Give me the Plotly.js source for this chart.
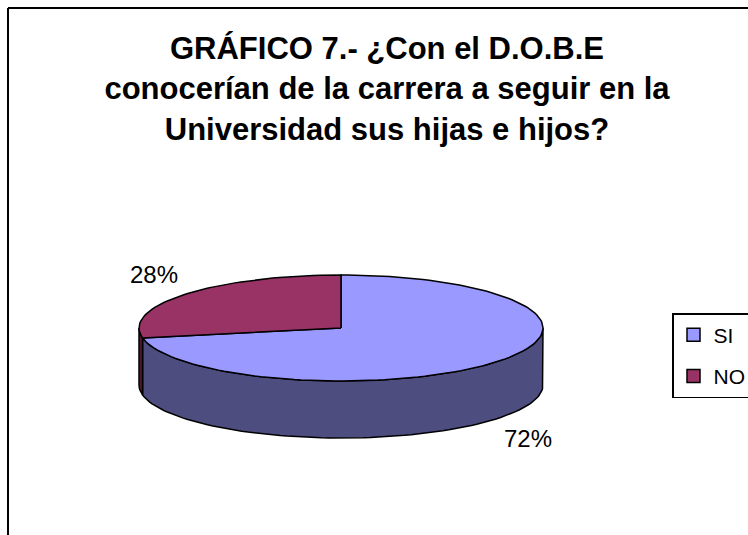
<!DOCTYPE html>
<html>
<head>
<meta charset="utf-8">
<script src="https://cdn.plot.ly/plotly-3.0.1.min.js"></script>
<style>
    body { margin: 0; background: #fff; }
    #chart { width: 748px; height: 535px; }
</style>
</head>
<body>
<div id="chart"></div>
<script>
// Datos del gráfico
const categorias = ['SI', 'NO'];
const valores = [72, 28];
const coloresTapa = ['#9999FF', '#993366'];
const coloresLado = ['#4D4D80', '#4D1A33'];
const lineasTitulo = [
    'GRÁFICO 7.- ¿Con el D.O.B.E',
    'conocerían de la carrera a seguir en la',
    'Universidad sus hijas e hijos?'
];

// Geometría de la torta 3D (píxeles)
const W = 748, H = 535;
const CX = 341, CY = 328, RX = 202, RY = 53, PROF = 57;
const FUENTE = '"Liberation Sans", Arial, sans-serif';

const total = valores.reduce((a, b) => a + b, 0);
const rad = (g) => g * Math.PI / 180;

function puntoElipse(g, dy) {
    return [CX + RX * Math.cos(rad(g)), CY - RY * Math.sin(rad(g)) + dy];
}

function arco(g1, g2, dy) {
    const pts = [];
    const n = Math.max(2, Math.ceil(Math.abs(g2 - g1) / 2));
    for (let i = 0; i <= n; i++) {
        pts.push(puntoElipse(g1 + (g2 - g1) * i / n, dy));
    }
    return pts;
}

function poligono(pts, relleno, nombre) {
    return {
        x: pts.map(p => p[0]),
        y: pts.map(p => p[1]),
        type: 'scatter',
        mode: 'lines',
        fill: 'toself',
        fillcolor: relleno,
        line: { color: '#000', width: 1.5 },
        hoverinfo: 'skip',
        showlegend: false,
        name: nombre
    };
}

// Ángulos de cada porción: desde las 12 en sentido horario
const porciones = [];
let inicio = 90;
valores.forEach((v, i) => {
    const fin = inicio - v / total * 360;
    porciones.push({ g1: inicio, g2: fin, i: i });
    inicio = fin;
});

const lados = [];
const tapas = [];
const etiquetas = [];

porciones.forEach(p => {
    // parte frontal visible del costado (seno negativo)
    for (let k = -1; k <= 1; k++) {
        const lo = Math.max(p.g2, -180 + 360 * k);
        const hi = Math.min(p.g1, 0 + 360 * k);
        if (hi > lo) {
            const pts = arco(lo, hi, 0).concat(arco(hi, lo, PROF));
            pts.push(pts[0]);
            lados.push(poligono(pts, coloresLado[p.i], categorias[p.i]));
        }
    }

    const centro = [CX, CY];
    const pts = [centro].concat(arco(p.g1, p.g2, 0), [centro]);
    tapas.push(poligono(pts, coloresTapa[p.i], categorias[p.i]));

    const medio = (p.g1 + p.g2) / 2;
    const s = Math.sin(rad(medio));
    etiquetas.push({
        x: CX + RX * 1.2 * Math.cos(rad(medio)),
        y: CY - RY * 1.58 * s + (s < 0 ? PROF : 0),
        text: Math.round(valores[p.i] / total * 100) + '%',
        showarrow: false,
        font: { family: FUENTE, size: 24, color: '#000' }
    });
});

// Entradas de leyenda
const leyenda = categorias.map((c, i) => ({
    x: [null],
    y: [null],
    type: 'scatter',
    mode: 'markers',
    name: c,
    legendgroup: c,
    marker: { symbol: 'square', size: 13, color: coloresTapa[i], line: { color: '#000', width: 1.5 } }
}));

const layout = {
    width: W,
    height: H,
    margin: { l: 0, r: 0, t: 0, b: 0, autoexpand: false },
    paper_bgcolor: '#fff',
    plot_bgcolor: '#fff',
    title: {
        text: lineasTitulo.join('<br>'),
        font: { family: FUENTE, size: 31, color: '#000', weight: 'bold' },
        x: 387 / W,
        xanchor: 'center',
        yref: 'container',
        y: 1 - 59 / H,
        yanchor: 'top'
    },
    xaxis: { range: [0, W], visible: false, fixedrange: true },
    yaxis: { range: [H, 0], visible: false, fixedrange: true },
    showlegend: true,
    legend: {
        x: 672 / W,
        xanchor: 'left',
        y: 1 - 313 / H,
        yanchor: 'top',
        bordercolor: '#000',
        borderwidth: 1.5,
        bgcolor: '#fff',
        font: { family: FUENTE, size: 21, color: '#000' },
        traceorder: 'grouped',
        tracegroupgap: 11,
        itemwidth: 30
    },
    annotations: etiquetas,
    shapes: [
        { type: 'line', xref: 'paper', yref: 'paper', x0: 8 / W, x1: 8 / W, y0: 0, y1: 1 - 8 / H,
          line: { color: '#000', width: 2 } },
        { type: 'line', xref: 'paper', yref: 'paper', x0: 8 / W, x1: 1, y0: 1 - 8 / H, y1: 1 - 8 / H,
          line: { color: '#000', width: 2 } }
    ]
};

Plotly.newPlot('chart', lados.concat(tapas, leyenda), layout, { displayModeBar: false, staticPlot: true });
</script>
</body>
</html>
